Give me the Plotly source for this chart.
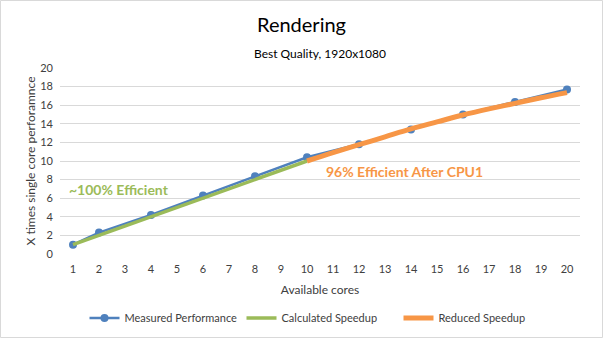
import plotly.graph_objects as go

cores_all = list(range(1, 21))
measured_cores = [1, 2, 4, 6, 8, 10, 12, 14, 16, 18, 20]
measured_perf = [1.0, 2.3, 4.2, 6.3, 8.35, 10.4, 11.8, 13.4, 15.0, 16.35, 17.7]
calc_cores = [1, 2, 3, 4, 5, 6, 7, 8, 9, 10]
calc_speedup = [1, 2, 3, 4, 5, 6, 7, 8, 9, 10]
reduced_cores = [10, 11, 12, 13, 14, 15, 16, 17, 18, 19, 20]
reduced_speedup = [10.0, 10.9, 11.75, 12.6, 13.45, 14.2, 14.95, 15.6, 16.2, 16.8, 17.35]
y_ticks = list(range(0, 21, 2))

FONT = "Lato"
fig = go.Figure()
fig.add_trace(go.Scatter(x=measured_cores, y=measured_perf, name="Measured Performance",
                         mode="lines+markers", line=dict(color="#4F81BD", width=2.5),
                         marker=dict(size=8, color="#4F81BD")))
fig.add_trace(go.Scatter(x=calc_cores, y=calc_speedup, name="Calculated Speedup",
                         mode="lines", line=dict(color="#9BBB59", width=3.5)))
fig.add_trace(go.Scatter(x=reduced_cores, y=reduced_speedup, name="Reduced Speedup",
                         mode="lines", line=dict(color="#F79646", width=5, shape="spline")))

fig.update_layout(
    width=603, height=338,
    margin=dict(l=60, r=23, t=68, b=84, autoexpand=False),
    paper_bgcolor="white", plot_bgcolor="white",
    font=dict(family=FONT, size=11, color="#404040"),
    title=dict(text="Rendering", x=0.5, xanchor="center", y=1 - 25 / 338, yanchor="middle",
               font=dict(family=FONT, size=20, color="#000000")),
    showlegend=True,
    legend=dict(orientation="h", x=0.5, xanchor="center", y=-0.344, yanchor="middle",
                font=dict(family=FONT, size=11, color="#404040"),
                entrywidth=112, itemwidth=30),
    xaxis=dict(range=[0.5, 20.5], tickvals=cores_all, ticktext=[str(c) for c in cores_all],
               showgrid=False, zeroline=False, showline=False, ticks="", automargin=False,
               ticklabelstandoff=7,
               tickfont=dict(size=11, color="#404040"),
               title=dict(text="Available cores", standoff=11, font=dict(size=12, color="#404040"))),
    yaxis=dict(range=[0, 20], tickvals=y_ticks, showgrid=True, gridcolor="#D9D9D9",
               zeroline=False, showline=False, ticks="", automargin=False,
               ticklabelstandoff=6,
               tickfont=dict(size=11, color="#404040"),
               title=dict(text="X times single core perforamnce", standoff=2,
                          font=dict(size=12, color="#404040"))),
    annotations=[
        dict(text="Best Quality, 1920x1080", xref="paper", yref="paper", x=0.5, y=(254 - 53) / 186,
             showarrow=False, xanchor="center", yanchor="middle",
             font=dict(family=FONT, size=12, color="#000000")),
        dict(text="<b>~100% Efficient</b>", xref="x", yref="y", x=0.75, y=6.9, showarrow=False,
             xanchor="left", yanchor="middle", font=dict(family=FONT, size=14, color="#9BBB59")),
        dict(text="<b>96% Efficient After CPU1</b>", xref="x", yref="y", x=10.65, y=8.85,
             showarrow=False, xanchor="left", yanchor="middle",
             font=dict(family=FONT, size=14, color="#F79646")),
    ],
    shapes=[dict(type="rect", xref="paper", yref="paper", x0=-59.5 / 520, x1=1 + 22.5 / 520,
                 y0=-83.5 / 186, y1=1 + 67.5 / 186, line=dict(color="#D9D9D9", width=1))],
)
fig.write_html("out.html")
